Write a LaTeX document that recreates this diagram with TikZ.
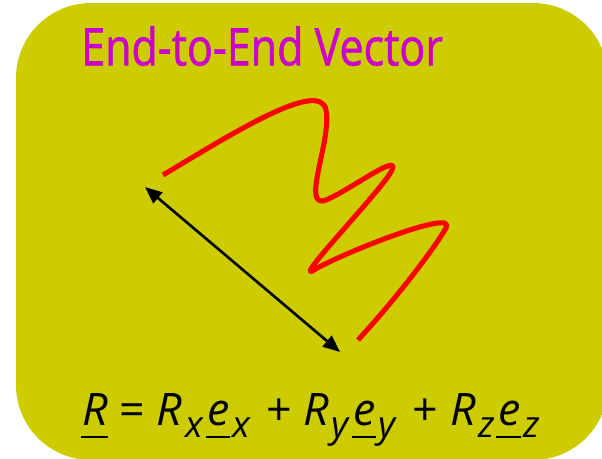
\documentclass[tikz,border=0pt]{standalone}
\usepackage{fontspec}
\setmainfont{Open Sans}
\newfontfamily\titlefont{Open Sans}[FakeBold=1.2]
\definecolor{boxolive}{RGB}{204,204,0}
\definecolor{titlemagenta}{RGB}{204,0,204}
\definecolor{chainred}{RGB}{255,0,0}
\usetikzlibrary{arrows.meta}
\newcommand{\uvec}[1]{\setbox0\hbox{\textit{#1}}\rlap{\hspace{-1pt}\rule[-0.3em]{\dimexpr\wd0+1pt\relax}{1.3pt}}\box0\relax}
\newcommand{\lowidx}[1]{\hspace{1.5pt}\raisebox{-0.5ex}{\fontsize{21}{24}\selectfont\textit{#1}}\hspace{2pt}}
\newcommand{\comp}[2]{\textit{#1}\lowidx{#2}}

\begin{document}
\begin{tikzpicture}[x=0.02cm, y=-0.02cm]
    % Page, clipped to the picture
    \useasboundingbox (0,0) rectangle (602,458);
    \clip (0,0) rectangle (602,458);

    % Rounded panel
    \fill[boxolive, rounded corners=1.5cm] (16,3) rectangle (608,460);

    % Title
    \node[text=titlemagenta, font=\fontsize{24.5}{28}\titlefont] (title) at (262,46)
        {\scalebox{1}[1.2]{End-to-End Vector}};

    % Chain contour
    \draw[chainred, line width=2.9pt, line join=round] (163,175)
        .. controls (230,135) and (320,78) .. (326,110)
        .. controls (332,140) and (300,210) .. (326,200)
        .. controls (350,190) and (400,152) .. (392,170)
        .. controls (384,188) and (290,285) .. (314,270)
        .. controls (338,255) and (458,207) .. (446,228)
        .. controls (434,249) and (395,300) .. (358,340);

    % End-to-end vector
    \coordinate (chainstart) at (145,187);
    \coordinate (chainend) at (340,352);
    \draw[{Triangle[length=0.34cm, width=0.28cm]}-{Triangle[length=0.34cm, width=0.28cm]}, line width=1.5pt]
        (chainstart) -- (chainend);

    % Formula
    \node[anchor=base, font=\fontsize{25.5}{30}\selectfont, inner sep=0pt] (formula) at (311,425)
        {\uvec{R} = \comp{R}{x}\uvec{e}\lowidx{x} + \comp{R}{y}\uvec{e}\lowidx{y} + \comp{R}{z}\uvec{e}\lowidx{z}};
\end{tikzpicture}
\end{document}
